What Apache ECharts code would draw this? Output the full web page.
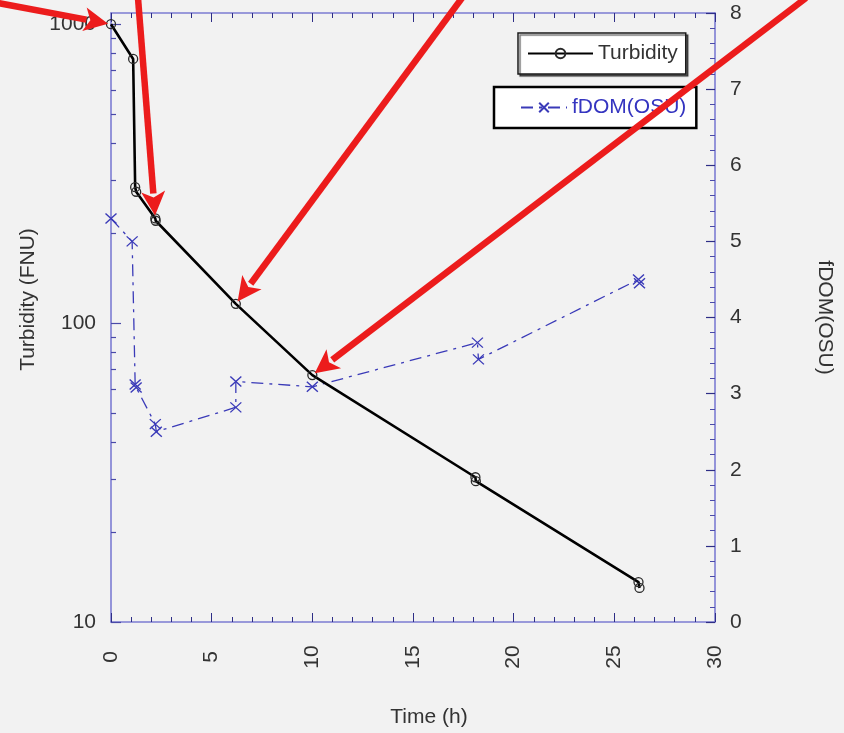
<!DOCTYPE html>
<html>
<head>
<meta charset="utf-8">
<script src="https://cdn.jsdelivr.net/npm/echarts@6/dist/echarts.min.js"></script>
<style>
html,body{margin:0;padding:0;background:#f2f2f2;}
#chart{width:844px;height:733px;}
</style>
</head>
<body>
<div id="chart"></div>
<script>
// ---- data ----
const turbTime = [0, 1.1, 1.2, 1.25, 2.2, 2.22, 6.2, 10.0, 18.1, 18.12, 26.2, 26.25];
const turbVal  = [1000, 765, 285, 275, 224, 220, 116, 67, 30.5, 29.6, 13.6, 13.0];

const fdomTime = [0, 1.05, 1.2, 1.25, 2.2, 2.25, 6.2, 6.2, 10.0, 18.2, 18.25, 26.2, 26.25];
const fdomVal  = [5.3, 5.0, 3.12, 3.08, 2.6, 2.5, 2.82, 3.16, 3.09, 3.67, 3.45, 4.5, 4.45];

const xTickLabels = [0, 5, 10, 15, 20, 25, 30];
const leftMajorTicks = [10, 100, 1000];
const leftMinorTicks = [20,30,40,50,60,70,80,90,200,300,400,500,600,700,800,900];
const rightTickLabels = [0, 1, 2, 3, 4, 5, 6, 7, 8];

// annotation arrows: data point they point at, and where their tail leaves the picture
const arrowTargets = [[0, 1000], [2.2, 224], [6.2, 116], [10.0, 67]];
const arrowTails = [[-2, 3], [138, -2], [462, -2], [806, -2]];

const FONT = "'Liberation Sans', Arial, sans-serif";
const AXIS_LINE = '#7c7cd2';
const TICK_MAJOR = '#2e2e86';
const TICK_MINOR = '#4a4aa8';

const chart = echarts.init(document.getElementById('chart'), null, {renderer: 'canvas'});

const zip = (a, b) => a.map((v, i) => [v, b[i]]);

const option = {
  backgroundColor: '#f2f2f2',
  animation: false,
  textStyle: {fontFamily: FONT},
  grid: {left: 111, right: 129, top: 13, bottom: 105, containLabel: false},
  legend: [
    {
      data: ['Turbidity'],
      left: 518, top: 33,
      orient: 'horizontal',
      padding: [10, 8, 10, 9],
      itemWidth: 65, itemHeight: 12,
      backgroundColor: '#ffffff',
      borderColor: '#1a1a1a', borderWidth: 1.5,
      shadowColor: 'rgba(0,0,0,0.55)', shadowOffsetX: 2, shadowOffsetY: 2, shadowBlur: 1,
      textStyle: {color: '#333333', fontSize: 21, fontFamily: FONT},
      selectedMode: false
    },
    {
      data: ['fDOM(OSU)'],
      left: 494, top: 87,
      orient: 'horizontal',
      padding: [10, 10, 10, 26],
      itemWidth: 46, itemHeight: 12,
      backgroundColor: '#ffffff',
      borderColor: '#000000', borderWidth: 2.5,
      textStyle: {color: '#3434c0', fontSize: 21, fontFamily: FONT},
      selectedMode: false
    }
  ],
  xAxis: [
    {
      type: 'value', position: 'bottom',
      min: 0, max: 30, interval: 5,
      name: 'Time (h)', nameLocation: 'middle', nameGap: 85,
      nameTextStyle: {color: '#333333', fontSize: 21, fontFamily: FONT, padding: [0, 0, 0, 32]},
      axisLine: {show: true, onZero: false, lineStyle: {color: AXIS_LINE, width: 1.6}},
      axisTick: {show: true, inside: true, length: 9, lineStyle: {color: TICK_MAJOR, width: 1}},
      minorTick: {show: true, splitNumber: 5, length: 5, lineStyle: {color: TICK_MAJOR, width: 1}},
      axisLabel: {
        show: true, rotate: 90, margin: 35, align: 'center', verticalAlign: 'middle',
        color: '#333333', fontSize: 21, fontFamily: FONT,
        formatter: v => (xTickLabels.indexOf(v) >= 0 ? String(v) : '')
      },
      splitLine: {show: false}
    },
    {
      type: 'value', position: 'top',
      min: 0, max: 30, interval: 5,
      axisLine: {show: true, onZero: false, lineStyle: {color: AXIS_LINE, width: 1.6}},
      axisTick: {show: true, inside: true, length: 9, lineStyle: {color: TICK_MAJOR, width: 1}},
      minorTick: {show: true, splitNumber: 5, length: 5, lineStyle: {color: TICK_MAJOR, width: 1}},
      axisLabel: {show: false},
      splitLine: {show: false}
    }
  ],
  yAxis: [
    {
      type: 'log', logBase: 10, position: 'left',
      min: 10, max: 1090,
      name: 'Turbidity (FNU)', nameLocation: 'middle', nameGap: 71,
      nameTextStyle: {color: '#333333', fontSize: 21, fontFamily: FONT, padding: [0, 0, 0, 36]},
      axisLine: {show: true, onZero: false, lineStyle: {color: AXIS_LINE, width: 1.6}},
      axisTick: {show: true, inside: true, length: 10, customValues: leftMajorTicks,
                 lineStyle: {color: TICK_MINOR, width: 1.2}},
      axisLabel: {show: true, margin: 15, customValues: leftMajorTicks,
                  color: '#333333', fontSize: 21, fontFamily: FONT,
                  formatter: v => String(Math.round(v))},
      splitLine: {show: false}
    },
    {
      type: 'value', position: 'right',
      min: 0, max: 8, interval: 1,
      name: 'fDOM(OSU)', nameLocation: 'middle', nameGap: 99, nameRotate: -90,
      nameTextStyle: {color: '#333333', fontSize: 21, fontFamily: FONT},
      axisLine: {show: true, onZero: false, lineStyle: {color: AXIS_LINE, width: 1.6}},
      axisTick: {show: true, inside: true, length: 9, lineStyle: {color: TICK_MAJOR, width: 1.2}},
      minorTick: {show: true, splitNumber: 5, length: 5, lineStyle: {color: TICK_MINOR, width: 1}},
      axisLabel: {show: true, margin: 15, color: '#333333', fontSize: 21, fontFamily: FONT,
                  formatter: v => (rightTickLabels.indexOf(v) >= 0 ? String(v) : '')},
      splitLine: {show: false}
    },
    {
      type: 'log', logBase: 10, position: 'left',
      min: 10, max: 1090,
      axisLine: {show: false},
      axisTick: {show: true, inside: true, length: 5, customValues: leftMinorTicks,
                 lineStyle: {color: TICK_MINOR, width: 1.2}},
      axisLabel: {show: false},
      splitLine: {show: false}
    }
  ],
  series: [
    {
      name: 'Turbidity', type: 'line',
      xAxisIndex: 0, yAxisIndex: 0,
      data: zip(turbTime, turbVal),
      symbol: 'circle', symbolSize: 9,
      lineStyle: {color: '#000000', width: 2.6},
      itemStyle: {color: 'rgba(0,0,0,0)', borderColor: '#2a2a2a', borderWidth: 1.3},
      z: 3
    },
    {
      name: 'fDOM(OSU)', type: 'line',
      xAxisIndex: 0, yAxisIndex: 1,
      data: zip(fdomTime, fdomVal),
      symbol: 'path://M0,0L10,10M10,0L0,10', symbolSize: [11, 10],
      lineStyle: {color: '#3a3ab8', width: 1.3, type: [12, 6, 3, 6]},
      itemStyle: {color: 'rgba(0,0,0,0)', borderColor: '#3a3ab8', borderWidth: 1.3},
      z: 2
    }
  ]
};

chart.setOption(option);

// red annotation arrows pointing at data points
function buildArrows() {
  const els = [];
  const RED = '#ec1c1c';
  const headLen = 24, headHalf = 12, shaftW = 6.5;
  arrowTargets.forEach((t, i) => {
    const tip = chart.convertToPixel({xAxisIndex: 0, yAxisIndex: 0}, t);
    const tail = arrowTails[i];
    const dx = tip[0] - tail[0], dy = tip[1] - tail[1];
    const len = Math.sqrt(dx * dx + dy * dy);
    const ux = dx / len, uy = dy / len;
    const nx = -uy, ny = ux;
    const tipP = [tip[0] - ux * 3, tip[1] - uy * 3];
    const base = [tipP[0] - ux * headLen, tipP[1] - uy * headLen];
    els.push({
      type: 'line', z: 100, silent: true,
      shape: {x1: tail[0], y1: tail[1], x2: base[0] + ux * 2, y2: base[1] + uy * 2},
      style: {stroke: RED, lineWidth: shaftW}
    });
    els.push({
      type: 'polygon', z: 100, silent: true,
      shape: {points: [tipP, [base[0] + nx * headHalf, base[1] + ny * headHalf],
                       [base[0] + ux * 6, base[1] + uy * 6],
                       [base[0] - nx * headHalf, base[1] - ny * headHalf]]},
      style: {fill: RED}
    });
  });
  return els;
}
chart.setOption({graphic: buildArrows()});
</script>
</body>
</html>
